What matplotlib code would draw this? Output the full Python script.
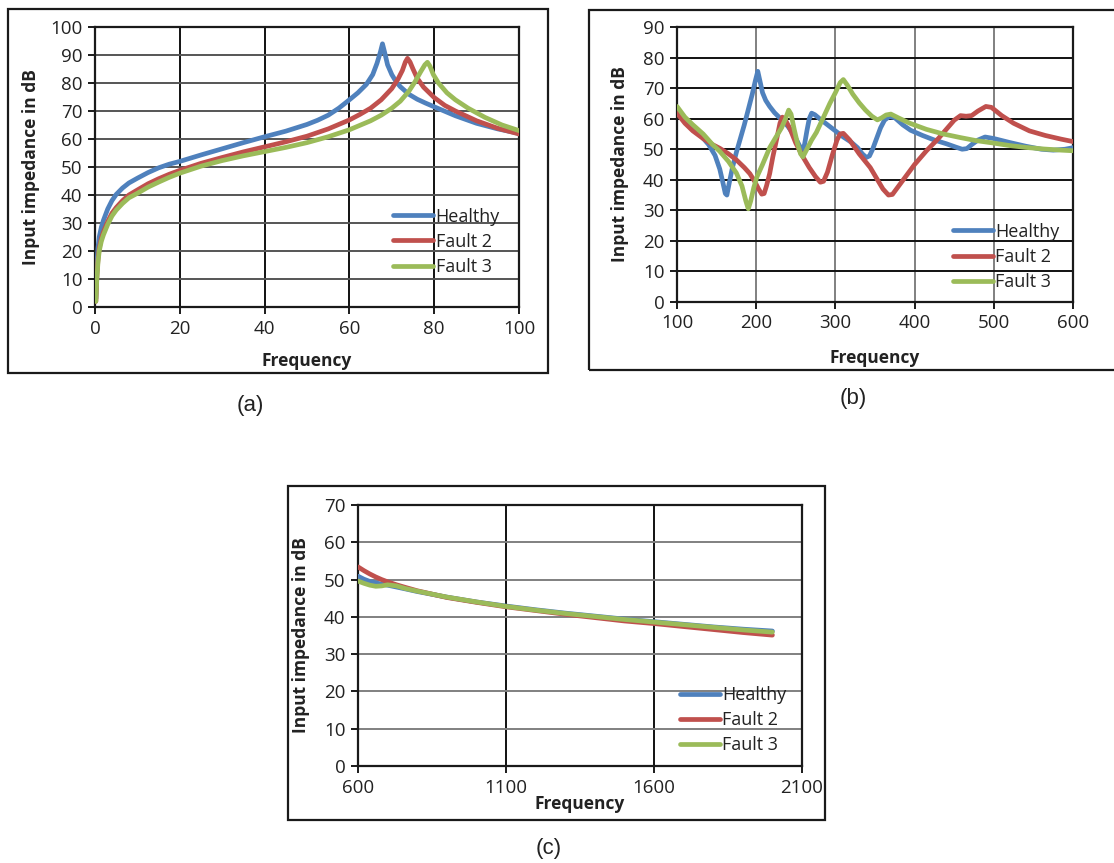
import matplotlib
matplotlib.use("Agg")
import matplotlib.pyplot as plt
from matplotlib.patches import Rectangle

plt.rcParams['font.family'] = ['Open Sans', 'DejaVu Sans']

# Colours of the three windings
colors = {'Healthy': '#4F81BD', 'Fault 2': '#C0504D', 'Fault 3': '#9BBB59'}
series_names = ['Healthy', 'Fault 2', 'Fault 3']

# ---- (a) low frequency band, 0-100 ----
a_healthy_f = [0.2, 0.4, 0.7, 1, 1.5, 2, 3, 4, 5, 6.5, 8, 10, 12.5, 15, 17.5, 20, 25, 30, 35, 40,
               45, 50, 52.5, 55, 57.5, 60, 62, 64, 65.5, 66.5, 67.3, 67.8, 68.3, 69, 70, 71, 72,
               74, 76, 78, 80, 85, 90, 95, 100]
a_healthy_v = [3, 14, 21, 25, 28.5, 31, 35, 38, 40.2, 42.5, 44.3, 46, 48, 49.7, 51, 52, 54.3, 56.5,
               58.7, 60.8, 62.8, 65.2, 66.7, 68.5, 71, 74, 76.5, 79.5, 83, 87, 91, 94, 91, 86.5,
               83, 80.5, 78.7, 76, 74.2, 72.8, 71.5, 68.3, 65.6, 63.6, 62]

a_fault2_f = [0.2, 0.4, 0.7, 1, 1.5, 2, 3, 4, 5, 6.5, 8, 10, 12.5, 15, 17.5, 20, 25, 30, 35, 40,
              45, 50, 55, 60, 62.5, 65, 67.5, 70, 71.5, 72.5, 73.2, 73.7, 74.3, 75, 76, 77.5,
              80, 82.5, 85, 90, 95, 100]
a_fault2_v = [2, 10, 17, 21, 24.5, 26.8, 30.5, 33.5, 35.5, 38, 40, 41.8, 44, 45.8, 47.4, 48.8,
              51.3, 53.4, 55.4, 57.2, 59, 61, 63.6, 66.8, 68.8, 71, 74, 78, 81.5, 84.5, 87.5,
              88.8, 87.5, 85, 81.7, 78.5, 74.8, 72, 70, 66.5, 63.8, 61.8]

a_fault3_f = [0.2, 0.4, 0.7, 1, 1.5, 2, 3, 4, 5, 6.5, 8, 10, 12.5, 15, 17.5, 20, 25, 30, 35, 40,
              45, 50, 55, 60, 65, 67.5, 70, 72, 74, 75.5, 76.8, 77.8, 78.4, 79, 79.8, 81, 83,
              85, 88, 92, 96, 100]
a_fault3_v = [2, 9, 16, 20, 23.5, 25.8, 29.5, 32.5, 34.6, 37, 39, 40.6, 42.8, 44.6, 46.3, 47.8,
              50.3, 52.3, 54, 55.5, 57, 58.7, 60.8, 63.3, 66.5, 68.5, 71, 73.5, 77, 80.5, 84,
              86.5, 87.4, 86, 83, 80, 76.5, 74, 71, 67.7, 65, 63]

# ---- (b) mid frequency band, 100-600 ----
b_healthy_f = [100, 110, 120, 130, 140, 148, 154, 158, 161, 163, 166, 170, 175, 180, 185, 190,
               195, 199, 202, 205, 208, 212, 217, 223, 230, 240, 248, 254, 258, 261, 264, 267,
               270, 274, 280, 290, 300, 310, 320, 328, 334, 339, 343, 347, 352, 357, 362, 368,
               375, 385, 395, 410, 425, 440, 452, 460, 466, 472, 480, 489, 500, 520, 540, 560,
               575, 590, 600]
b_healthy_v = [62, 59.5, 57, 54.5, 51.5, 48, 43.5, 39, 35.5, 35, 39, 44, 49, 53.5, 58, 63,
               68, 72.5, 75.5, 72, 68.5, 66, 64, 62, 60.2, 57.5, 54.5, 51.5, 49.5, 51.5, 56, 60,
               61.8, 61.3, 60, 58, 56, 54, 52.3, 50.5, 48.5, 47.3, 47.8, 50, 53.5, 57, 59.5, 60.7,
               60.3, 58, 56.2, 54.5, 53, 51.8, 50.7, 50, 50.2, 51.5, 53, 54, 53.5, 52.2, 51, 50,
               49.7, 50, 50.5]

b_fault2_f = [100, 110, 120, 133, 145, 154, 165, 175, 185, 192, 198, 203, 207, 210, 213, 217,
              221, 226, 230, 233, 236, 243, 250, 259, 267, 275, 281, 285, 290, 296, 302, 306,
              310, 318, 330, 344, 352, 360, 367, 372, 380, 390, 400, 415, 430, 440, 450, 458,
              465, 472, 480, 490, 497, 510, 525, 545, 565, 585, 600]
b_fault2_v = [61.8, 58.5, 56, 53.5, 51.5, 50.3, 48.5, 46.5, 44, 42, 39.5, 37, 35.3, 35.5, 38, 42,
              47.5, 53.5, 58.5, 60.5, 60, 56.5, 52, 47.5, 44, 41, 39.2, 39.5, 42.5, 48, 53, 55,
              55.2, 53, 48.5, 44, 40.5, 37, 35, 35.2, 38, 41.5, 45, 49.5, 53.5, 56.5, 59.5, 61,
              60.8, 61, 62.5, 64, 63.7, 61, 58.5, 56, 54.5, 53.3, 52.5]

b_fault3_f = [100, 110, 120, 133, 145, 154, 165, 175, 182, 187, 190, 193, 197, 201, 208, 217,
              225, 232, 237, 241, 244, 248, 252, 256, 259, 264, 270, 276, 285, 293, 300, 306,
              310, 315, 322, 330, 338, 346, 353, 358, 364, 370, 380, 394, 415, 436, 458, 478,
              500, 520, 540, 562, 585, 600]
b_fault3_v = [64, 60.5, 58, 55, 51.5, 49.3, 46, 42.2, 38, 33, 30.5, 33, 37.5, 41, 45, 50.5,
              54, 57, 60, 62.8, 61.5, 56.5, 52, 48.5, 47.5, 50, 53, 55.5, 60.5, 65, 68.5, 71.8,
              72.8, 71, 68, 65.2, 62.8, 60.8, 59.6, 60.2, 61.2, 61.5, 60.2, 58.5, 56.5, 55, 53.8,
              52.8, 52, 51.2, 50.6, 50.1, 49.7, 49.5]

# ---- (c) high frequency band, 600-2100 ----
c_freq = [600, 620, 640, 660, 680, 700, 730, 760, 800, 900, 1000, 1100, 1200, 1300, 1400,
          1500, 1600, 1700, 1800, 1900, 2000]
c_healthy_v = [50.9, 50.1, 49.5, 49.1, 48.8, 48.5, 48.0, 47.5, 46.8, 45.3, 44.0, 42.9, 41.9,
               41.0, 40.2, 39.4, 38.7, 38.0, 37.3, 36.7, 36.2]
c_fault2_v = [53.4, 52.4, 51.5, 50.7, 50.0, 49.4, 48.6, 47.9, 47.0, 45.2, 43.9, 42.7, 41.7,
              40.7, 39.8, 38.9, 38.2, 37.4, 36.6, 35.8, 35.1]
c_fault3_v = [49.6, 49.0, 48.5, 48.2, 48.3, 48.6, 48.3, 47.6, 46.9, 45.3, 44.0, 42.8, 41.8,
              40.9, 40.1, 39.3, 38.6, 37.9, 37.2, 36.5, 35.9]


def draw_panel(ax, curves, xlim, xticks, ylim, yticks, vgrid_color, hgrid_color,
               legend_anchor, xlabel_y, ylabel_x):
    for name, (f, v) in zip(series_names, curves):
        ax.plot(f, v, color=colors[name], lw=3.4, label=name, solid_capstyle='round',
                solid_joinstyle='round', zorder=3)

    ax.set_xlim(*xlim)
    ax.set_ylim(*ylim)
    ax.set_xticks(xticks)
    ax.set_yticks(yticks)

    # Excel-style grid: one colour for vertical lines, another for horizontal
    for x in xticks[1:-1]:
        ax.axvline(x, color=vgrid_color, lw=1.4, zorder=1)
    for y in yticks[1:-1]:
        ax.axhline(y, color=hgrid_color, lw=1.4, zorder=1)

    for side in ['left', 'bottom', 'top', 'right']:
        ax.spines[side].set_color('#1a1a1a')
        ax.spines[side].set_linewidth(1.6)
    ax.tick_params(direction='out', length=5, width=1.4, color='#1a1a1a',
                   labelsize=13.5, labelcolor='#222222', pad=4)

    ax.set_xlabel('Frequency', fontsize=12.5, fontweight='bold', color='#222222')
    ax.set_ylabel('Input impedance in dB', fontsize=12.5, fontweight='bold', color='#222222')
    ax.xaxis.set_label_coords(0.5, xlabel_y)
    ax.yaxis.set_label_coords(ylabel_x, 0.5)

    ax.legend(loc='center left', bbox_to_anchor=legend_anchor, frameon=False, fontsize=13,
              handlelength=2.2, handletextpad=0.15, labelspacing=0.4, borderpad=0,
              borderaxespad=0, labelcolor='#222222')


fig = plt.figure(figsize=(11.14, 8.63), dpi=100)
W, H = 1114.0, 863.0


def axes_from_pixels(left, top, right, bottom):
    return fig.add_axes([left / W, 1 - bottom / H, (right - left) / W, (bottom - top) / H])


def chart_box(left, top, right, bottom):
    fig.add_artist(Rectangle((left / W, 1 - bottom / H), (right - left) / W, (bottom - top) / H,
                             transform=fig.transFigure, fill=False, ec='#1a1a1a', lw=1.6))


# chart area borders
chart_box(8, 9, 548, 373)
chart_box(589, 10, 1120, 370)
chart_box(288, 486, 825, 820)

ax_a = axes_from_pixels(95, 27, 519, 307)
draw_panel(ax_a,
           [(a_healthy_f, a_healthy_v), (a_fault2_f, a_fault2_v), (a_fault3_f, a_fault3_v)],
           (0, 100), list(range(0, 101, 20)), (0, 100), list(range(0, 101, 10)),
           '#111111', '#555555', (0.703, 0.233), -0.16, -0.13)

ax_b = axes_from_pixels(677, 27, 1073, 302)
draw_panel(ax_b,
           [(b_healthy_f, b_healthy_v), (b_fault2_f, b_fault2_v), (b_fault3_f, b_fault3_v)],
           (100, 600), list(range(100, 601, 100)), (0, 90), list(range(0, 91, 10)),
           '#808080', '#111111', (0.697, 0.164), -0.171, -0.121)

ax_c = axes_from_pixels(358, 505, 802, 766)
draw_panel(ax_c,
           [(c_freq, c_healthy_v), (c_freq, c_fault2_v), (c_freq, c_fault3_v)],
           (600, 2100), list(range(600, 2101, 500)), (0, 70), list(range(0, 71, 10)),
           '#111111', '#808080', (0.725, 0.176), -0.111, -0.108)

# panel captions
for label, (px, py) in zip(['(a)', '(b)', '(c)'], [(250, 405), (853, 398), (549, 848)]):
    fig.text(px / W, 1 - py / H, label, fontsize=16, ha='center', va='center',
             family=['Liberation Sans', 'DejaVu Sans'], color='#222222')

fig.savefig('out.png', dpi=100)
